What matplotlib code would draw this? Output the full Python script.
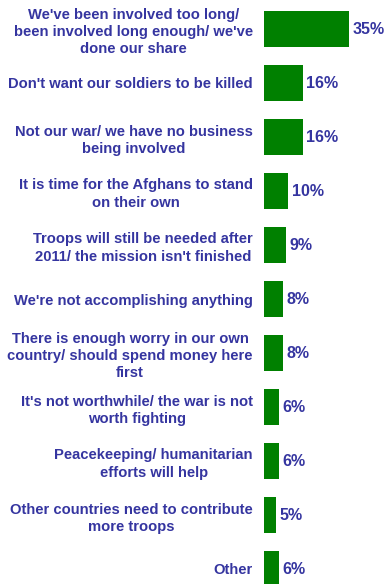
import matplotlib
matplotlib.use("Agg")
import matplotlib.pyplot as plt

categories = [
    "We've been involved too long/\nbeen involved long enough/ we've\ndone our share",
    "Don't want our soldiers to be killed",
    "Not our war/ we have no business\nbeing involved",
    "It is time for the Afghans to stand\non their own",
    "Troops will still be needed after\n2011/ the mission isn't finished",
    "We're not accomplishing anything",
    "There is enough worry in our own\ncountry/ should spend money here\nfirst",
    "It's not worthwhile/ the war is not\nworth fighting",
    "Peacekeeping/ humanitarian\nefforts will help",
    "Other countries need to contribute\nmore troops",
    "Other",
]
values = [35, 16, 16, 10, 9, 8, 8, 6, 6, 5, 6]

TEXT = "#3535A0"
BAR = "#008000"
DPI = 100
W, H = 387, 584

plt.rcParams["font.family"] = ["Liberation Sans", "DejaVu Sans"]
plt.rcParams["font.weight"] = "bold"

fig = plt.figure(figsize=(W / DPI, H / DPI), dpi=DPI)
left = 264 / W
ax = fig.add_axes([left, 0, 1 - left, 1])

pos = list(range(len(values)))
ax.barh(pos, values, height=0.667, color=BAR, zorder=2)

ax.set_xlim(0, (W - 264) / 2.43)
ax.set_ylim((H - 29) / 54, -29 / 54)

ax.set_yticks(pos)
ax.set_yticklabels(categories, fontsize=10.6, color=TEXT, fontweight="bold",
                   linespacing=1.28)
for lab in ax.get_yticklabels():
    lab.set_multialignment("center")
ax.tick_params(axis="y", length=0, pad=8)
ax.set_xticks([])

for i, v in enumerate(values):
    ax.annotate(f"{v}%", xy=(v, i), xytext=(2.5, 0), textcoords="offset points",
                va="center", ha="left", fontsize=11.5, color=TEXT,
                fontweight="bold")

for s in ax.spines.values():
    s.set_visible(False)

fig.savefig("out.png", dpi=DPI)
